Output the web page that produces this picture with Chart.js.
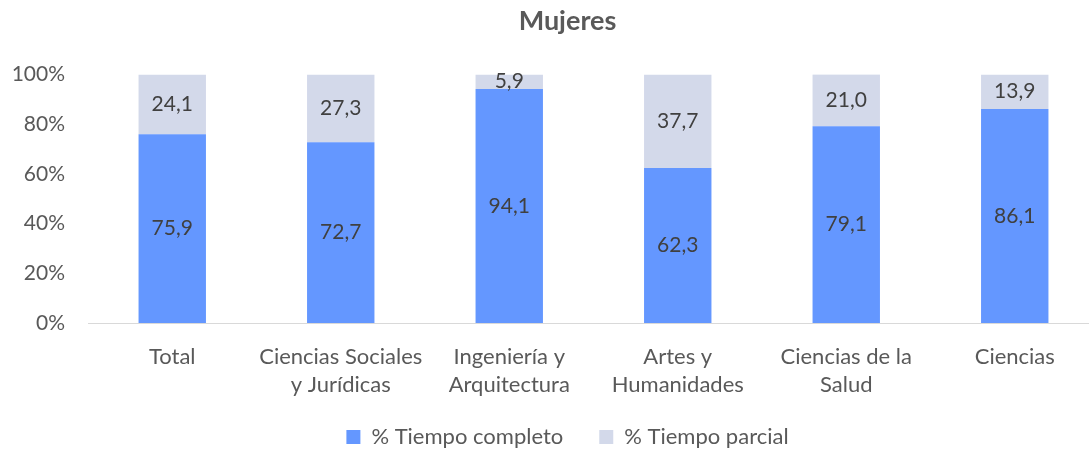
<!DOCTYPE html>
<html>
<head>
<meta charset="utf-8">
<script src="https://cdn.jsdelivr.net/npm/chart.js@4"></script>
<style>
  html, body { margin: 0; padding: 0; background: #fff; overflow: hidden; }
  #wrap { width: 1089px; height: 451px; overflow: hidden; }
</style>
</head>
<body>
<div id="wrap"><canvas id="grafico" width="1100" height="451"></canvas></div>
<script>
const categorias = [
  "Total",
  ["Ciencias Sociales", "y Jurídicas"],
  ["Ingeniería y", "Arquitectura"],
  ["Artes y", "Humanidades"],
  ["Ciencias de la", "Salud"],
  "Ciencias",
];
const tiempoCompleto = [75.9, 72.7, 94.1, 62.3, 79.1, 86.1];
const tiempoParcial = [24.1, 27.3, 5.9, 37.7, 21.0, 13.9];
const ticksY = [0, 20, 40, 60, 80, 100];

const fuente = "Lato, 'Open Sans', sans-serif";

// etiquetas de valor dentro de cada segmento
const etiquetasBarras = {
  id: "etiquetasBarras",
  afterDatasetsDraw(chart) {
    const ctx = chart.ctx;
    ctx.save();
    ctx.font = "21px " + fuente;
    ctx.fillStyle = "#404040";
    ctx.textAlign = "center";
    ctx.textBaseline = "middle";
    chart.data.datasets.forEach((ds, i) => {
      chart.getDatasetMeta(i).data.forEach((bar, j) => {
        const mid = (bar.y + bar.base) / 2;
        ctx.fillText(ds.data[j].toFixed(1).replace(".", ","), bar.x, mid);
      });
    });
    ctx.restore();
  },
};

// el título y la leyenda van un poco a la derecha, y la leyenda algo más arriba
const desplazar = {
  id: "desplazar",
  afterLayout(chart) {
    [chart.titleBlock, chart.legend].forEach((b) => {
      if (!b) return;
      b.left += 18;
      b.right += 18;
    });
    if (chart.legend) {
      chart.legend.top -= 13;
      chart.legend.bottom -= 13;
    }
  },
};

new Chart(document.getElementById("grafico"), {
  type: "bar",
  data: {
    labels: categorias,
    datasets: [
      {
        label: "% Tiempo completo",
        data: tiempoCompleto,
        backgroundColor: "#6497FF",
        barPercentage: 0.4,
        categoryPercentage: 1,
      },
      {
        label: "% Tiempo parcial",
        data: tiempoParcial,
        backgroundColor: "#D3D9EA",
        barPercentage: 0.4,
        categoryPercentage: 1,
      },
    ],
  },
  options: {
    responsive: false,
    animation: false,
    layout: { padding: { left: 0, right: 1, top: 0, bottom: -20 } },
    plugins: {
      title: {
        display: true,
        text: "Mujeres",
        color: "#595959",
        font: { family: fuente, size: 27, weight: "bold" },
        padding: { top: 5, bottom: 37 },
      },
      legend: {
        position: "bottom",
        labels: {
          color: "#595959",
          font: { family: fuente, size: 22 },
          boxWidth: 14,
          boxHeight: 14,
          padding: 36,
        },
      },
      tooltip: { enabled: false },
    },
    scales: {
      x: {
        stacked: true,
        grid: { display: false },
        border: { color: "#D9D9D9", width: 1 },
        ticks: {
          color: "#595959",
          font: { family: fuente, size: 22, lineHeight: 1.27 },
          padding: 12,
          maxRotation: 0,
          autoSkip: false,
        },
        afterFit(axis) { axis.height = 80; },
      },
      y: {
        stacked: true,
        min: 0,
        max: 100,
        grid: { display: false, drawTicks: false },
        border: { display: false },
        afterBuildTicks(axis) { axis.ticks = ticksY.map((v) => ({ value: v })); },
        ticks: {
          color: "#595959",
          font: { family: fuente, size: 21 },
          padding: 23,
          callback: (v) => v + "%",
        },
        afterFit(axis) { axis.width = 88; },
      },
    },
  },
  plugins: [etiquetasBarras, desplazar],
});
</script>
</body>
</html>
